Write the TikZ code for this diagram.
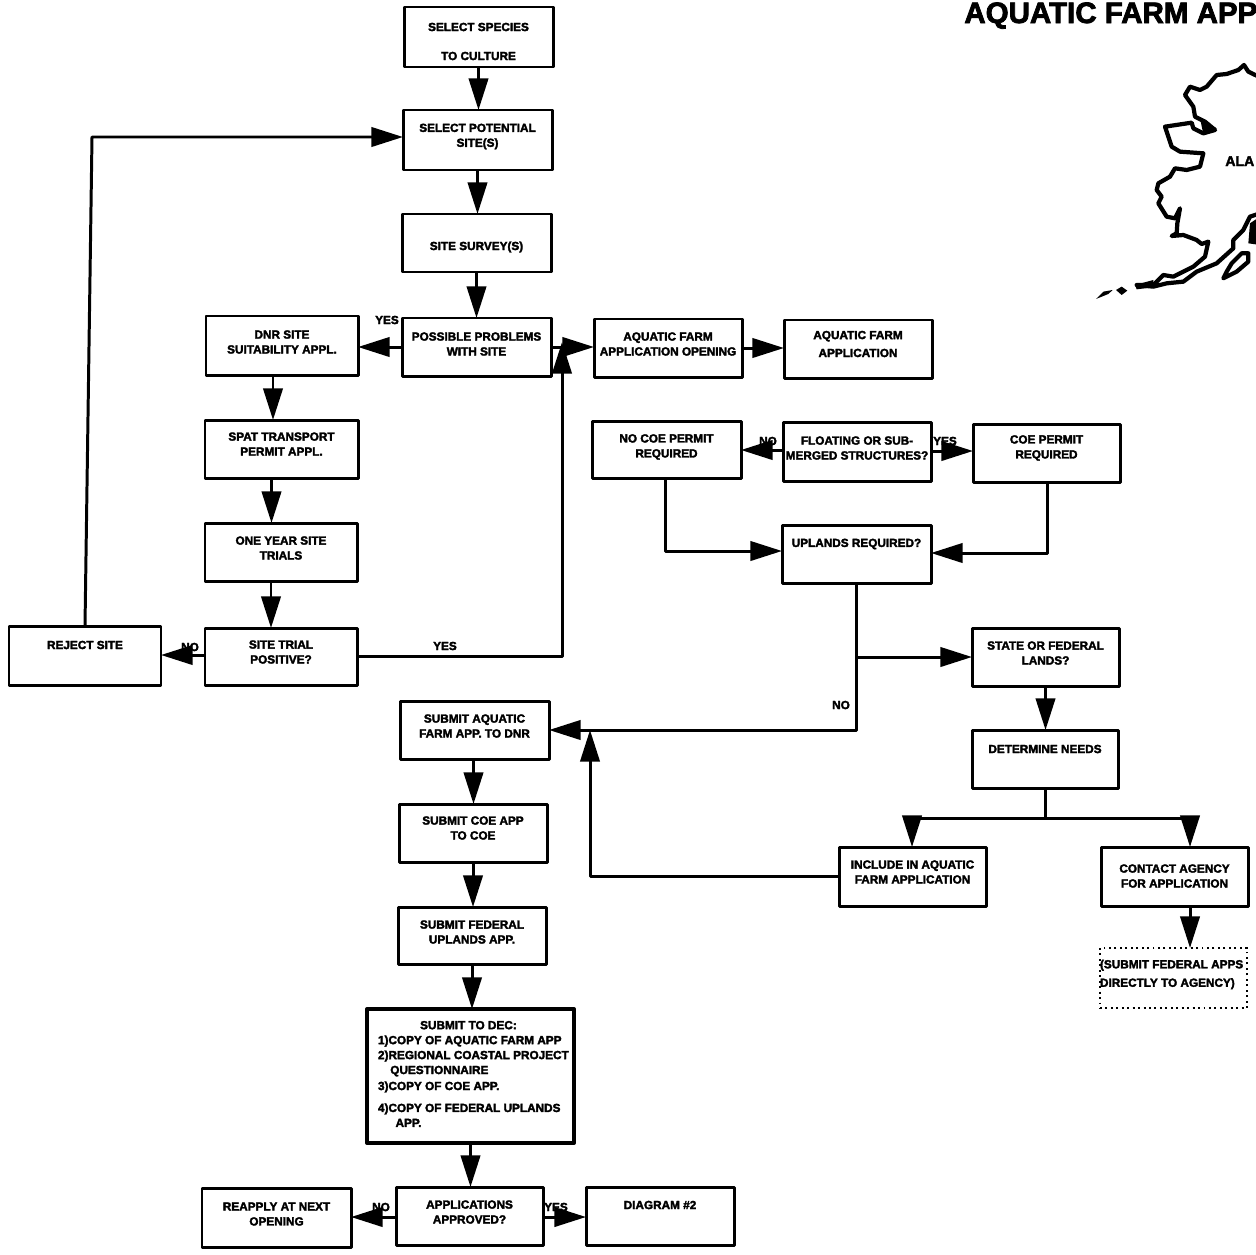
\documentclass[tikz,border=0pt]{standalone}
\usepackage{fontspec}
\setmainfont{Liberation Sans}
\newfontfamily\heavyf{Liberation Sans Bold}[FakeBold=2.6]
\usetikzlibrary{arrows.meta}
\tikzset{
  flow/.style={draw=black,fill=white,line width=1.7pt,inner sep=0pt,outer sep=0pt,line join=round},
  flowdot/.style={draw=black,line width=1.1pt,dotted,inner sep=0pt,outer sep=0pt},
  txt/.style={inner sep=0pt,outer sep=0pt,align=center,font=\heavyf\fontsize{6.7}{8.5}\selectfont},
  tag/.style={inner sep=0pt,outer sep=0pt,font=\heavyf\fontsize{6.7}{8.5}\selectfont},
  conn/.style={line width=1.7pt,draw=black,line join=round},
  arr/.style={conn,-{Triangle[length=18pt,width=11pt]}},
  coast/.style={draw=black,line width=2.4pt,line join=round,line cap=round},
}
% name, x1, y1, x2, y2, text centre y, text
\newcommand{\flowbox}[7]{%
  \node[flow,minimum width={(#4-#2)*0.02cm},minimum height={(#5-#3)*0.02cm}] (#1) at ({(#2+#4)/2},{(#3+#5)/2}) {};
  \node[txt] (#1t) at ({(#2+#4)/2},#6) {#7};}
\begin{document}
\begin{tikzpicture}[x=0.02cm,y=-0.02cm]
\path[use as bounding box,clip] (0,0) rectangle (1256,1254);
\fill[white] (0,0) rectangle (1256,1254);

\flowbox{species}{404}{7}{553}{67}{41.5}{SELECT SPECIES\\[8pt]TO CULTURE}
\flowbox{potential}{403}{110}{552}{170}{136.5}{SELECT POTENTIAL\\SITE(S)}
\flowbox{survey}{402}{214}{551}{272}{247}{SITE SURVEY(S)}
\flowbox{problems}{402}{318}{551}{376}{344}{POSSIBLE PROBLEMS\\WITH SITE}
\flowbox{dnr}{206}{316}{358}{375}{342}{DNR SITE\\SUITABILITY APPL.}
\flowbox{spat}{205}{420}{358}{478}{444}{SPAT TRANSPORT\\PERMIT APPL.}
\flowbox{trials}{205}{523}{357}{581}{548}{ONE YEAR SITE\\TRIALS}
\flowbox{positive}{205}{628}{357}{685}{652}{SITE TRIAL\\POSITIVE?}
\flowbox{reject}{9}{626}{161}{685}{645}{REJECT SITE}
\flowbox{opening}{594}{319}{742}{377}{344}{AQUATIC FARM\\APPLICATION OPENING}
\flowbox{application}{784}{320}{932}{378}{344}{AQUATIC FARM\\[1.7pt]APPLICATION}
\flowbox{nocoe}{592}{421}{741}{478}{447}{NO COE PERMIT\\REQUIRED}
\flowbox{floating}{783}{422}{931}{481}{448}{FLOATING OR SUB-\\MERGED STRUCTURES?}
\flowbox{coe}{973}{424}{1120}{482}{448}{COE PERMIT\\REQUIRED}
\flowbox{uplands}{782}{525}{931}{583}{544}{UPLANDS REQUIRED?}
\flowbox{state}{972}{628}{1119}{686}{653}{STATE OR FEDERAL\\LANDS?}
\flowbox{needs}{972}{730}{1118}{788}{749}{DETERMINE NEEDS}
\flowbox{subaq}{400}{701}{549}{759}{726}{SUBMIT AQUATIC\\FARM APP. TO DNR}
\flowbox{subcoe}{399}{804}{547}{862}{828}{SUBMIT COE APP\\TO COE}
\flowbox{subfed}{398}{907}{546}{964}{932}{SUBMIT FEDERAL\\UPLANDS APP.}
\flowbox{approved}{396}{1187}{543}{1245}{1212}{APPLICATIONS\\APPROVED?}
\flowbox{reapply}{202}{1188}{351}{1247}{1214}{REAPPLY AT NEXT\\OPENING}
\flowbox{diagram}{586}{1187}{734}{1245}{1205}{DIAGRAM \#2}
\flowbox{include}{839}{847}{986}{906}{872}{INCLUDE IN AQUATIC\\FARM APPLICATION}
\flowbox{contact}{1101}{847}{1248}{906}{876}{CONTACT AGENCY\\FOR APPLICATION}

% DEC box
\node[flow,line width=2.3pt,minimum width={207*0.02cm},minimum height={134*0.02cm}] (dec) at (470.5,1076) {};
\node[txt,align=left,anchor=north west] (dect) at (378,1021) {\hspace*{24pt}SUBMIT TO DEC:\\
1)COPY OF AQUATIC FARM APP\\
2)REGIONAL COASTAL PROJECT\\
\hspace*{7pt}QUESTIONNAIRE\\[0.6pt]
3)COPY OF COE APP.\\[4pt]
4)COPY OF FEDERAL UPLANDS\\
\hspace*{10pt}APP.};

% dotted box
\node[flowdot,minimum width={147*0.02cm},minimum height={60*0.02cm}] (direct) at (1173.5,978) {};
\node[txt,align=left,anchor=west] (directt) at (1100,974.5) {(SUBMIT FEDERAL APPS\\[2pt]DIRECTLY TO AGENCY)};

% vertical main flow
\draw[arr] (species.south) -- (species.south |- potential.north);
\draw[arr] (potential.south) -- (potential.south |- survey.north);
\draw[arr] (survey.south) -- (survey.south |- problems.north);
\draw[arr] (dnr.south) ++(-9,0) coordinate (c1) -- (c1 |- spat.north);
\draw[arr] (spat.south) ++(-10,0) coordinate (c2) -- (c2 |- trials.north);
\draw[arr] (trials.south) ++(-10,0) coordinate (c3) -- (c3 |- positive.north);
\draw[arr] (subaq.south) ++(-1,0) coordinate (c4) -- (c4 |- subcoe.north);
\draw[arr] (subcoe.south) -- (subcoe.south |- subfed.north);
\draw[arr] (subfed.south) -- (subfed.south |- dec.north);
\draw[arr] (dec.south) -- (dec.south |- approved.north);

% left loop
\coordinate (loop) at (92,137);
\draw[arr] (reject.north) -- (loop) -- (potential.west |- loop);
\draw[arr] (positive.west |- 0,655) -- (reject.east |- 0,655);

% problem branches
\draw[arr] (problems.west |- 0,347) -- (dnr.east |- 0,347);
\draw[arr] (problems.east |- 0,347) -- (opening.west |- 0,347);
\coordinate (jn) at (562,342);
\coordinate (rise) at (562,656);
\draw[arr] (positive.east |- rise) -- (rise) -- (jn);
\draw[arr] (opening.east |- 0,348) -- (application.west |- 0,348);

% floating
\draw[arr] (floating.west |- 0,450) -- (nocoe.east |- 0,450);
\draw[arr] (floating.east |- 0,451) -- (coe.west |- 0,451);
\coordinate (nc) at (665,551);
\draw[arr] (nc |- nocoe.south) -- (nc) -- (uplands.west |- nc);
\coordinate (cc) at (1047,553);
\draw[arr] (cc |- coe.south) -- (cc) -- (uplands.east |- cc);

% uplands
\coordinate (uc) at (856,730);
\coordinate (ub) at (856,657);
\draw[arr] (uc |- uplands.south) -- (uc) -- (subaq.east |- uc);
\draw[arr] (ub) -- (state.west |- ub);
\draw[arr] (state.south) -- (state.south |- needs.north);

% needs
\coordinate (nb) at (1045,818);
\coordinate (nl) at (912,818);
\coordinate (nr) at (1190,818);
\draw[conn] (needs.south -| nb) -- (nb);
\draw[arr] (nb) -- (nl) -- (nl |- include.north);
\draw[arr] (nb) -- (nr) -- (nr |- contact.north);
\coordinate (ia) at (590,876);
\coordinate (ib) at (590,730);
\draw[arr] (include.west |- ia) -- (ia) -- (ib);
\draw[arr] (nr |- contact.south) -- (nr |- direct.north);

% bottom
\draw[arr] (approved.west |- 0,1217) -- (reapply.east |- 0,1217);
\draw[arr] (approved.east |- 0,1217) -- (diagram.west |- 0,1217);

% branch labels
\node[tag] (yes1) at (387,320) {YES};
\node[tag] (yes2) at (445,646) {YES};
\node[tag] (no1) at (190,647) {NO};
\node[tag] (no2) at (768,441) {NO};
\node[tag] (yes3) at (945,441) {YES};
\node[tag] (no3) at (841,705) {NO};
\node[tag] (no4) at (381,1207) {NO};
\node[tag] (yes4) at (556,1207) {YES};

% title and map
\node[inner sep=0pt,anchor=base west,font=\heavyf\fontsize{16.8}{18}\selectfont] (title) at (964,23) {AQUATIC FARM APP};
\node[inner sep=0pt,anchor=base west,font=\heavyf\fontsize{8}{10}\selectfont] (ala) at (1225,166) {ALA};
\begin{scope}[shift={(940,0)},x=0.02cm/3,y=-0.02cm/3]
\draw[coast] (960,232) -- (925,215) -- (912,195) -- (895,210) -- (860,222) -- (830,225) -- (800,260) -- (780,270) -- (750,260) -- (735,285) -- (760,320) -- (765,350) -- (795,365) -- (825,390) -- (790,400) -- (760,385) -- (755,368) -- (675,380) -- (695,440) -- (720,455) -- (790,460) -- (780,500) -- (740,510) -- (705,505) -- (690,530) -- (655,550) -- (650,570) -- (665,590) -- (655,610) -- (680,650) -- (705,655) -- (720,625) -- (712,670) -- (710,700) -- (695,708) -- (730,705) -- (770,720) -- (785,732) -- (805,725) -- (795,770) -- (760,800) -- (700,830) -- (670,825) -- (640,855) -- (590,855) -- (640,860) -- (680,850) -- (730,845) -- (770,815) -- (830,790) -- (880,745) -- (880,720) -- (910,690) -- (930,650) -- (960,640);
\draw[coast] (850,835) -- (890,815) -- (925,785) -- (925,760) -- (905,760) -- (875,790) -- (860,815) -- cycle;
\fill (930,670) -- (960,650) -- (960,735) -- (925,730) -- cycle;
\fill (780,355) -- (830,385) -- (790,402) -- cycle;
\fill (468,897) -- (490,875) -- (518,870) -- (505,882) -- cycle;
\fill (528,870) -- (545,860) -- (562,872) -- (545,885) -- cycle;
\fill (585,855) -- (640,840) -- (640,862) -- (590,868) -- cycle;
\end{scope}
\end{tikzpicture}
\end{document}
